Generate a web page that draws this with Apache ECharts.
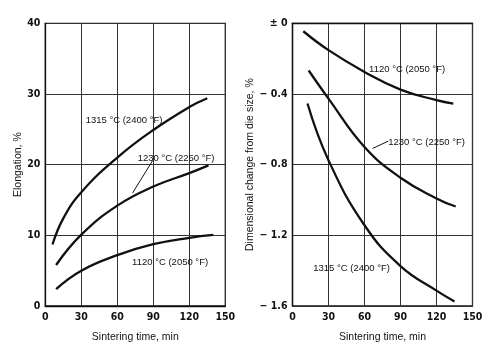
<!DOCTYPE html>
<html><head><meta charset="utf-8">
<script src="https://cdn.jsdelivr.net/npm/echarts@6/dist/echarts.min.js"></script>
<style>html,body{margin:0;padding:0;background:#fff}#c{width:500px;height:348px}</style>
</head><body><div id="c"></div>
<script>
// ---- data ----
const xTicks = [0, 30, 60, 90, 120, 150];
const elongTicks = [0, 10, 20, 30, 40];
const dimTicks = [-1.6, -1.2, -0.8, -0.4, 0];

const elong1315 = [[6,8.7],[15,12.4],[30,16.1],[60,21.0],[90,24.9],[120,28.15],[135,29.4]];
const elong1230 = [[9,5.8],[30,10.1],[60,14.2],[90,16.9],[120,18.8],[136,19.9]];
const elong1120 = [[9,2.4],[30,5.0],[60,7.2],[90,8.75],[120,9.65],[140,10.05]];

const dim1120 = [[9,-0.045],[30,-0.152],[60,-0.275],[90,-0.375],[120,-0.435],[134,-0.455]];
const dim1230 = [[13.5,-0.267],[30,-0.426],[60,-0.70],[90,-0.874],[120,-0.991],[136,-1.037]];
const dim1315 = [[12.5,-0.454],[30,-0.775],[60,-1.143],[90,-1.374],[120,-1.513],[135,-1.574]];

const labels1315 = '1315 °C (2400 °F)';
const labels1230 = '1230 °C (2250 °F)';
const labels1120 = '1120 °C (2050 °F)';

// label anchor points (data coords)
const elongLabelPos = {l1315:[65.6,26.2], l1230:[109,20.9], l1120:[104,6.2]};
const elongLeader = [[89.5,20.6],[72.8,16.0]];
const dimLabelPos = {l1120:[95.5,-0.258], l1230:[111.7,-0.672], l1315:[49.2,-1.385]};
const dimLeader = [[79.8,-0.667],[66.8,-0.708]];

// ---- chart ----
const tickFont = {fontFamily:'"Liberation Sans Narrow","DejaVu Sans Condensed",sans-serif', fontWeight:'bold', fontSize:10.5, color:'#111'};
const nameFont = {fontFamily:'"Liberation Sans",Arial,sans-serif', fontSize:10.5, color:'#111'};
const lineStyle = {color:'#111', width:2.3};
const gridLine = {show:true, lineStyle:{color:'#333', width:1}};

function xAxis(gi){
  return {gridIndex:gi, type:'value', min:0, max:150, interval:30,
    name:'Sintering time, min', nameLocation:'middle', nameGap:26, nameTextStyle:nameFont,
    axisLine:{show:true, lineStyle:{color:'#111', width:1.3}}, axisTick:{show:false},
    axisLabel:Object.assign({margin:6}, tickFont), splitLine:gridLine};
}
function annot(pos, text){
  return {coord:pos, value:1, symbol:'rect', symbolSize:1,
    itemStyle:{color:'rgba(0,0,0,0)'},
    label:{show:true, position:'inside', formatter:text,
      fontFamily:'"Liberation Sans",Arial,sans-serif', fontSize:9.5, color:'#111'}};
}
function series(gi, data, extra){
  return Object.assign({type:'line', xAxisIndex:gi, yAxisIndex:gi, data:data, smooth:0.45,
    showSymbol:false, symbol:'none', lineStyle:lineStyle, silent:true, animation:false}, extra||{});
}

const chart = echarts.init(document.getElementById('c'), null, {renderer:'canvas'});
chart.setOption({
  backgroundColor:'#fff',
  animation:false,
  grid:[
    {left:45.3, right:274.7, top:23.3, bottom:37, show:true, borderColor:'#111', borderWidth:1.3},
    {left:292.5, right:27.5, top:23.3, bottom:37, show:true, borderColor:'#111', borderWidth:1.3}
  ],
  xAxis:[xAxis(0), xAxis(1)],
  yAxis:[
    {gridIndex:0, type:'value', min:elongTicks[0], max:elongTicks[elongTicks.length-1], interval:10,
     name:'Elongation, %', nameLocation:'middle', nameGap:21, nameTextStyle:nameFont,
     axisLine:{show:true, lineStyle:{color:'#111', width:1.3}}, axisTick:{show:false},
     axisLabel:Object.assign({margin:5}, tickFont), splitLine:gridLine},
    {gridIndex:1, type:'value', min:dimTicks[0], max:dimTicks[dimTicks.length-1], interval:0.4,
     name:'Dimensional change from die size, %', nameLocation:'middle', nameGap:34, nameTextStyle:nameFont,
     axisLine:{show:true, lineStyle:{color:'#111', width:1.3}}, axisTick:{show:false},
     axisLabel:Object.assign({margin:5, formatter:function(v){
        if (Math.abs(v) < 1e-9) return '± 0';
        return '− ' + Math.abs(v).toFixed(1);
     }}, tickFont), splitLine:gridLine}
  ],
  series:[
    series(0, elong1315, {markPoint:{silent:true, animation:false, data:[annot(elongLabelPos.l1315, labels1315)]}}),
    series(0, elong1230, {
      markPoint:{silent:true, animation:false, data:[annot(elongLabelPos.l1230, labels1230)]},
      markLine:{silent:true, animation:false, symbol:'none', lineStyle:{color:'#111', width:1, type:'solid'}, label:{show:false},
        data:[[{coord:elongLeader[0]},{coord:elongLeader[1]}]]}}),
    series(0, elong1120, {markPoint:{silent:true, animation:false, data:[annot(elongLabelPos.l1120, labels1120)]}}),
    series(1, dim1120, {markPoint:{silent:true, animation:false, data:[annot(dimLabelPos.l1120, labels1120)]}}),
    series(1, dim1230, {
      markPoint:{silent:true, animation:false, data:[annot(dimLabelPos.l1230, labels1230)]},
      markLine:{silent:true, animation:false, symbol:'none', lineStyle:{color:'#111', width:1, type:'solid'}, label:{show:false},
        data:[[{coord:dimLeader[0]},{coord:dimLeader[1]}]]}}),
    series(1, dim1315, {markPoint:{silent:true, animation:false, data:[annot(dimLabelPos.l1315, labels1315)]}})
  ]
});
</script>
</body></html>
